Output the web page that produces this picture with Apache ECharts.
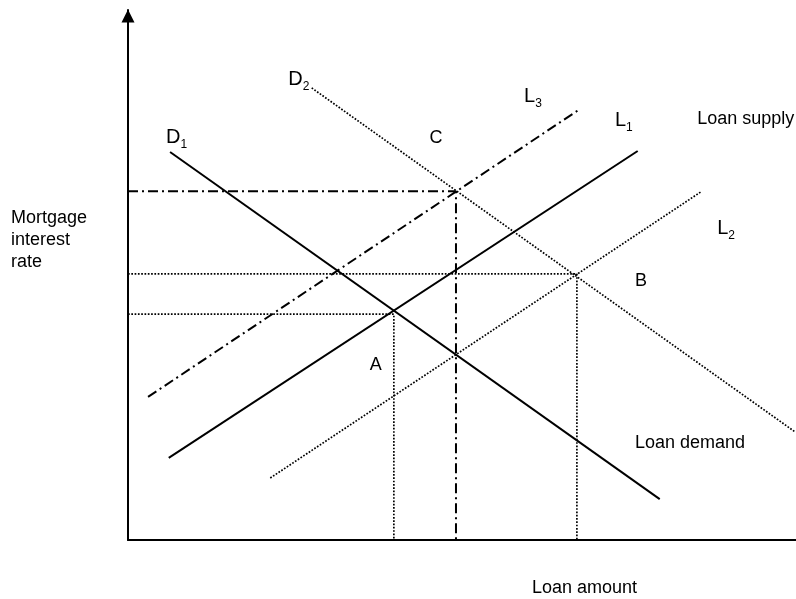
<!DOCTYPE html>
<html>
<head>
<meta charset="utf-8">
<script src="https://cdn.jsdelivr.net/npm/echarts@6/dist/echarts.min.js"></script>
<style>html,body{margin:0;padding:0;background:#fff}#c{width:796px;height:599px}</style>
</head>
<body>
<div id="c"></div>
<script>
// Curves (x: loan amount, y: mortgage interest rate), abstract units 0-100
const D1 = [[6.3, 73.2], [79.6, 7.7]];
const D2 = [[27.5, 85.3], [99.85, 20.4]];
const L1 = [[6.1, 15.5], [76.3, 73.4]];
const L2 = [[21.3, 11.7], [85.9, 65.8]];
const L3 = [[3.0, 27.0], [67.4, 81.1]];
// Equilibrium reference lines
const eqA = [[0, 42.6], [39.8, 42.6], [39.8, 0]];
const eqB = [[0, 50.2], [67.2, 50.2], [67.2, 0]];
const eqC = [[0, 65.8], [49.1, 65.8], [49.1, 0]];
// Labels: [x, y, text]
const curveLabels = [
  [5.7, 76.0, '{m|D}{s|1}'],
  [24.0, 86.8, '{m|D}{s|2}'],
  [59.3, 83.6, '{m|L}{s|3}'],
  [72.9, 79.1, '{m|L}{s|1}'],
  [88.2, 58.7, '{m|L}{s|2}']
];
const pointLabels = [
  [46.1, 75.8, 'C'],
  [76.8, 48.9, 'B'],
  [37.1, 33.0, 'A']
];
const textLabels = [
  [85.2, 79.4, 'Loan supply'],
  [75.9, 18.3, 'Loan demand']
];
const xTitle = 'Loan amount';
const yTitle = 'Mortgage\ninterest\nrate';

const FONT = '"Liberation Sans", Arial, Helvetica, sans-serif';
const chart = echarts.init(document.getElementById('c'), null, {renderer: 'canvas'});

function lineSeries(data, type, width) {
  return {
    type: 'line', data: data, symbol: 'none', silent: true, animation: false,
    lineStyle: {color: '#000', width: width, type: type, cap: 'butt', opacity: 1}
  };
}
const dotted = [1.7, 1.6];
const dashDot = [10, 4, 2, 4];
const labelBase = {show: true, color: '#000', opacity: 1, textBorderWidth: 0, fontFamily: FONT};

chart.setOption({
  animation: false,
  grid: {left: 128, right: 0, top: 10, bottom: 59},
  xAxis: {
    type: 'value', min: 0, max: 100,
    axisLine: {show: true, onZero: false, lineStyle: {color: '#000', width: 2}},
    axisTick: {show: false}, axisLabel: {show: false}, splitLine: {show: false}
  },
  yAxis: {
    type: 'value', min: 0, max: 100,
    axisLine: {show: true, onZero: false, symbol: ['none', 'triangle'], symbolSize: [13, 13], symbolOffset: [0, -6],
      lineStyle: {color: '#000', width: 2}},
    axisTick: {show: false}, axisLabel: {show: false}, splitLine: {show: false}
  },
  series: [
    lineSeries(D1, 'solid', 2),
    lineSeries(L1, 'solid', 2),
    lineSeries(D2, dotted, 1.7),
    lineSeries(L2, dotted, 1.7),
    lineSeries(L3, dashDot, 2),
    lineSeries(eqA, dotted, 1.7),
    lineSeries(eqB, dotted, 1.7),
    lineSeries(eqC, dashDot, 2),
    {
      type: 'scatter', symbolSize: 0, silent: true, itemStyle: {opacity: 1},
      data: curveLabels.map(d => ({value: [d[0], d[1]], label: {formatter: d[2]}})),
      label: Object.assign({}, labelBase, {position: 'right', distance: 0,
        rich: {m: {fontSize: 20, fontFamily: FONT, color: '#000'},
               s: {fontSize: 12, fontFamily: FONT, color: '#000', padding: [14, 0, 0, 0]}}})
    },
    {
      type: 'scatter', symbolSize: 0, silent: true, itemStyle: {opacity: 1},
      data: pointLabels.map(d => ({value: [d[0], d[1]], label: {formatter: d[2]}})),
      label: Object.assign({}, labelBase, {position: 'inside', fontSize: 18})
    },
    {
      type: 'scatter', symbolSize: 0, silent: true, itemStyle: {opacity: 1},
      data: textLabels.map(d => ({value: [d[0], d[1]], label: {formatter: d[2]}})),
      label: Object.assign({}, labelBase, {position: 'right', distance: 0, fontSize: 18})
    }
  ],
  graphic: [
    {type: 'text', left: 532, top: 579, style: {text: xTitle, fontSize: 18, fontFamily: FONT, fill: '#000'}},
    {type: 'text', left: 11, top: 207, style: {text: yTitle, fontSize: 18, lineHeight: 22, fontFamily: FONT, fill: '#000'}}
  ]
});
</script>
</body>
</html>
